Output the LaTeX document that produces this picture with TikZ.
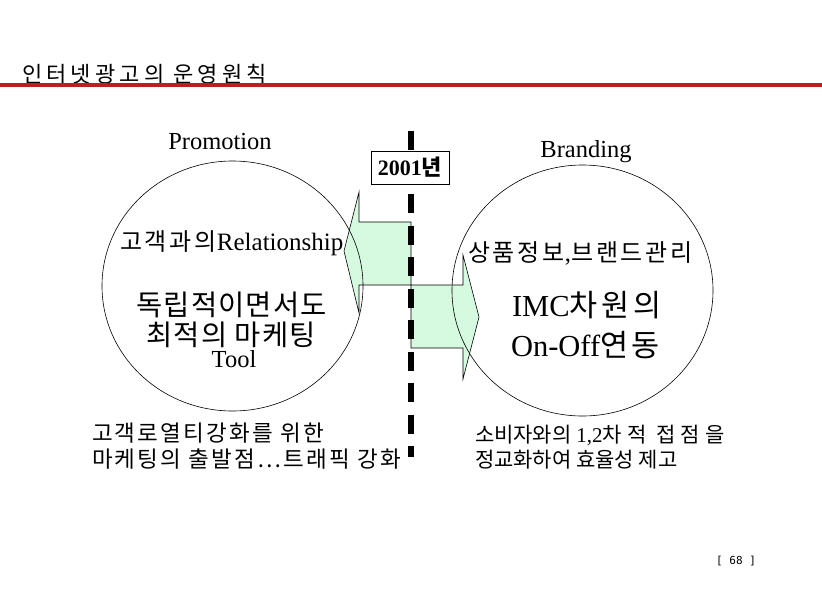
\documentclass[tikz,border=0pt]{standalone}
\usepackage{fontspec}
\setmainfont{Liberation Serif}
\newfontfamily\kr{Noto Sans CJK KR}
\newfontfamily\krT[LetterSpace=19]{Noto Sans CJK KR}
\newfontfamily\krC[LetterSpace=4]{Noto Sans CJK KR}
\newfontfamily\krM[LetterSpace=12]{Noto Sans CJK KR}
\newfontfamily\krB[LetterSpace=10]{Noto Sans CJK KR}
\newfontfamily\krW[LetterSpace=25]{Noto Sans CJK KR}
\newfontfamily\monof{DejaVu Sans Mono}
\usetikzlibrary{shapes.geometric}
\definecolor{arrowfill}{RGB}{214,250,224}
\definecolor{titlered}{RGB}{190,30,30}
\tikzset{
  txt/.style={inner sep=0pt, outer sep=0pt},
  lbl/.style={txt, anchor=base},
  lblw/.style={txt, anchor=base west},
  oval/.style={draw, ellipse, inner sep=0pt, line width=0.6pt, minimum width=261pt, minimum height=250pt},
  flowarrow/.style={fill=arrowfill, draw=black, line width=0.6pt, line join=miter},
  divider/.style={line width=6pt, dash pattern=on 19pt off 12.5pt},
  yearbox/.style={draw, fill=white, line width=0.8pt, minimum width=78pt, minimum height=33pt, inner sep=0pt}
}
\begin{document}
\begin{tikzpicture}[x=1pt,y=-1pt]
\path[use as bounding box] (0,0) rectangle (822,595);

% title and red rule
\node[lblw, font={\krT\fontsize{22}{26}\selectfont}] (title) at (22,82) {인터넷광고의 운영원칙};
\coordinate (rl) at (0,85);
\coordinate (rr) at (822,85);
\draw[titlered, line width=3.5pt] (rl) -- (rr);

% arrows
\path[flowarrow] (411,222) -- (359,222) -- (359,192) -- (344,251) -- (359,313) -- (359,285) -- (411,285) -- cycle;
\path[flowarrow] (411,285) -- (463,285) -- (463,255) -- (479,317) -- (463,379) -- (463,348) -- (411,348) -- cycle;

% circles
\node[oval] (lc) at (232.5,286) {};
\node[oval, minimum height=251pt] (rc) at (582.5,290.5) {};

% divider
\coordinate (dtop) at (411,131);
\coordinate (dbot) at (411,457);
\draw[divider] (dtop) -- (dbot);

% year box
\node[yearbox, font={\bfseries\fontsize{22}{24}\selectfont}] (year) at (410,167.5) {2001{\kr 년}};

% headings
\node[lbl, font={\fontsize{24.5}{28}\selectfont}] (promo) at (220,149) {Promotion};
\node[lbl, font={\fontsize{24.5}{28}\selectfont}] (brand) at (586,157) {Branding};

% left circle text
\node[lblw, font={\fontsize{25}{28}\selectfont}] (rel) at (120,250) {{\krM\fontsize{24}{28}\selectfont 고객과의}Relationship};
\node[lbl, font={\krC\fontsize{28.5}{30}\selectfont}] (l1) at (231.5,315) {독립적이면서도};
\node[lbl, font={\krC\fontsize{28.5}{30}\selectfont}] (l2) at (231,345) {최적의 마케팅};
\node[lbl, font={\fontsize{24.5}{28}\selectfont}] (tool) at (234,367) {Tool};

% right circle text
\node[lblw, font={\fontsize{24.5}{28}\selectfont}] (prod) at (468,261) {{\krM\fontsize{24}{28}\selectfont 상품정보},{\krM\fontsize{24}{28}\selectfont 브랜드관리}};
\node[lblw, font={\fontsize{30.5}{34}\selectfont}] (imc) at (512,316) {IMC{\krM\fontsize{30.5}{34}\selectfont 차원의}};
\node[lblw, font={\fontsize{30.5}{34}\selectfont}] (onoff) at (511,356.5) {On-Off{\krM\fontsize{30.5}{34}\selectfont 연동}};

% bottom texts
\node[lblw, font={\krB\fontsize{22.5}{26}\selectfont}] (bl1) at (92,441) {고객로열티강화를 위한};
\node[lblw, font={\krB\fontsize{22.5}{26}\selectfont}] (bl2) at (92,467) {마케팅의 출발점…트래픽 강화};
\node[lblw, font={\fontsize{21}{24}\selectfont}] (br1) at (475,442) {{\kr 소비자와의 }1,2{\krW 차적 접점을}};
\node[lblw, font={\kr\fontsize{21}{24}\selectfont}] (br2) at (475,467) {정교화하여 효율성 제고};

% page number
\node[lbl, font={\monof\fontsize{11}{13}\selectfont}] (page) at (736,564) {[ 68 ]};
\end{tikzpicture}
\end{document}
